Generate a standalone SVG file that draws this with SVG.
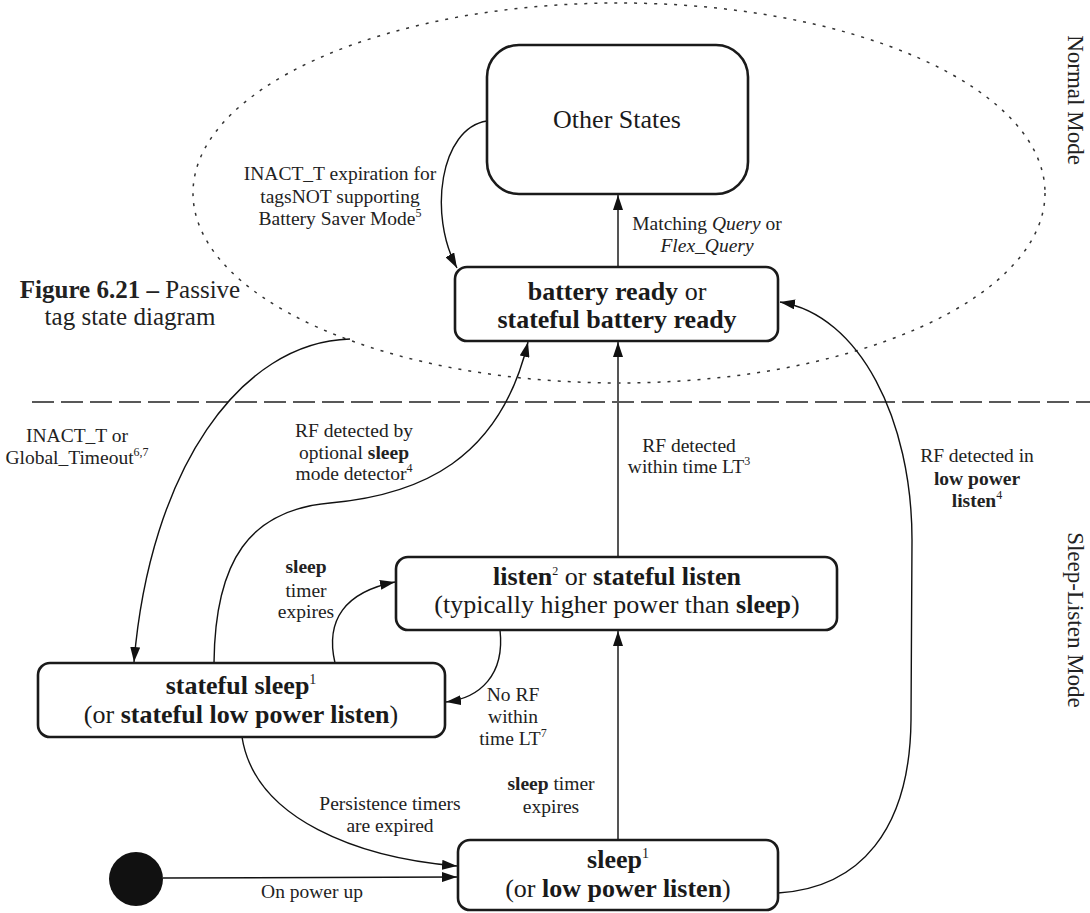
<svg xmlns="http://www.w3.org/2000/svg" width="1090" height="913" viewBox="0 0 1090 913">
  <defs>
    <marker id="arr" markerUnits="userSpaceOnUse" markerWidth="16" markerHeight="10" refX="15" refY="5" orient="auto">
      <path d="M0,0 L15,5 L0,10 Z" fill="#111"/>
    </marker>
    <style>
      .state { fill: #fff; stroke: #1a1a1a; stroke-width: 2.6; }
      .btxt { font-family: "Liberation Serif", "DejaVu Serif", serif; font-size: 26px; fill: #1a1a1a; text-anchor: middle; }
      .lbl { font-family: "Liberation Serif", "DejaVu Serif", serif; font-size: 19.5px; fill: #222; text-anchor: middle; }
      .b { font-weight: bold; }
      .i { font-style: italic; }
      .sup { font-size: 12px; }
      .edge { fill: none; stroke: #111; stroke-width: 1.4; }
      .vedge { fill: none; stroke: #555; stroke-width: 2; }
      .mode { font-family: "Liberation Serif", "DejaVu Serif", serif; font-size: 23px; fill: #222; text-anchor: middle; }
    </style>
  </defs>

  <rect width="1090" height="913" fill="#fff"/>

  <!-- Normal mode region and mode boundary -->
  <ellipse cx="619" cy="193" rx="426" ry="190" fill="none" stroke="#333" stroke-width="1.5" stroke-dasharray="3 7"/>
  <line x1="32" y1="402" x2="1090" y2="402" stroke="#222" stroke-width="1.5" stroke-dasharray="22 7"/>

  <text class="mode" transform="translate(1068,100) rotate(90)">Normal Mode</text>
  <text class="mode" transform="translate(1068,620) rotate(90)">Sleep-Listen Mode</text>

  <!-- caption -->
  <g id="caption" font-family="Liberation Serif, DejaVu Serif, serif" font-size="25" fill="#222" text-anchor="middle">
    <text x="130" y="298"><tspan font-weight="bold">Figure 6.21 –</tspan> Passive</text>
    <text x="130" y="325">tag state diagram</text>
  </g>

  <!-- connectors -->
  <g id="connectors">
    <path class="edge" d="M487,121 C440,128 428,215 457,268" marker-end="url(#arr)"/>
    <path class="vedge" d="M618,267 L618,195" marker-end="url(#arr)"/>
    <path class="edge" d="M350,339 C240,342 150,470 134,662" marker-end="url(#arr)"/>
    <path class="edge" d="M214,663 C215,560 250,510 330,503 C420,495 500,460 528,342" marker-end="url(#arr)"/>
    <path class="vedge" d="M618,557 L618,342" marker-end="url(#arr)"/>
    <path class="edge" d="M778,893 C860,888 910,830 911,720 L912,540 C912,420 860,315 780,302" marker-end="url(#arr)"/>
    <path class="edge" d="M335,663 C325,620 345,592 395,582" marker-end="url(#arr)"/>
    <path class="edge" d="M500,630 C505,675 480,698 446,702" marker-end="url(#arr)"/>
    <path class="vedge" d="M618,840 L618,631" marker-end="url(#arr)"/>
    <path class="edge" d="M242,737 C255,820 360,858 457,866" marker-end="url(#arr)"/>
    <path class="edge" d="M163,878 L457,877" marker-end="url(#arr)"/>
  </g>

  <!-- connector labels -->
  <g id="labels">
    <text class="lbl" x="340" y="180">INACT_T expiration for</text>
    <text class="lbl" x="340" y="203">tagsNOT supporting</text>
    <text class="lbl" x="340" y="225">Battery Saver Mode<tspan class="sup" dy="-8">5</tspan></text>

    <text class="lbl" x="707" y="230">Matching <tspan class="i">Query</tspan> or</text>
    <text class="lbl i" x="707" y="252">Flex_Query</text>

    <text class="lbl" x="77" y="442">INACT_T or</text>
    <text class="lbl" x="77" y="464">Global_Timeout<tspan class="sup" dy="-8">6,7</tspan></text>

    <text class="lbl" x="354" y="437">RF detected by</text>
    <text class="lbl" x="354" y="459">optional <tspan class="b">sleep</tspan></text>
    <text class="lbl" x="354" y="480">mode detector<tspan class="sup" dy="-8">4</tspan></text>

    <text class="lbl" x="689" y="452">RF detected</text>
    <text class="lbl" x="689" y="473">within time LT<tspan class="sup" dy="-8">3</tspan></text>

    <text class="lbl" x="977" y="462">RF detected in</text>
    <text class="lbl b" x="977" y="485">low power</text>
    <text class="lbl b" x="977" y="507">listen<tspan class="sup" font-weight="normal" dy="-8">4</tspan></text>

    <text class="lbl b" x="306" y="573">sleep</text>
    <text class="lbl" x="306" y="597">timer</text>
    <text class="lbl" x="306" y="618">expires</text>

    <text class="lbl" x="513" y="701">No RF</text>
    <text class="lbl" x="513" y="723">within</text>
    <text class="lbl" x="513" y="745">time LT<tspan class="sup" dy="-8">7</tspan></text>

    <text class="lbl" x="551" y="790"><tspan class="b">sleep</tspan> timer</text>
    <text class="lbl" x="551" y="813">expires</text>

    <text class="lbl" x="390" y="810">Persistence timers</text>
    <text class="lbl" x="390" y="832">are expired</text>

    <text class="lbl" x="312" y="898">On power up</text>
  </g>

  <!-- states -->
  <g id="other-states">
    <rect class="state" x="487" y="45" width="261" height="149" rx="32"/>
    <text class="btxt" x="617" y="128" font-size="25">Other States</text>
  </g>

  <g id="battery-ready">
    <rect class="state" x="455" y="267" width="323" height="74" rx="12"/>
    <text class="btxt" x="617" y="300"><tspan class="b">battery ready</tspan> or</text>
    <text class="btxt b" x="617" y="328">stateful battery ready</text>
  </g>

  <g id="listen">
    <rect class="state" x="396" y="557" width="441" height="73" rx="12"/>
    <text class="btxt" x="617" y="585"><tspan class="b">listen</tspan><tspan class="sup" font-size="14" dy="-10">2</tspan><tspan dy="10"> or </tspan><tspan class="b">stateful listen</tspan></text>
    <text class="btxt" x="617" y="613">(typically higher power than <tspan class="b">sleep</tspan>)</text>
  </g>

  <g id="stateful-sleep">
    <rect class="state" x="38" y="663" width="407" height="74" rx="12"/>
    <text class="btxt" x="241" y="694"><tspan class="b">stateful sleep</tspan><tspan font-size="14" dy="-10">1</tspan></text>
    <text class="btxt" x="241" y="723">(or <tspan class="b">stateful low power listen</tspan>)</text>
  </g>

  <g id="sleep">
    <rect class="state" x="458" y="840" width="320" height="70" rx="12"/>
    <text class="btxt" x="618" y="868"><tspan class="b">sleep</tspan><tspan font-size="14" dy="-10">1</tspan></text>
    <text class="btxt" x="618" y="897">(or <tspan class="b">low power listen</tspan>)</text>
  </g>

  <g id="initial">
    <circle cx="136" cy="879" r="27" fill="#111"/>
  </g>
</svg>
